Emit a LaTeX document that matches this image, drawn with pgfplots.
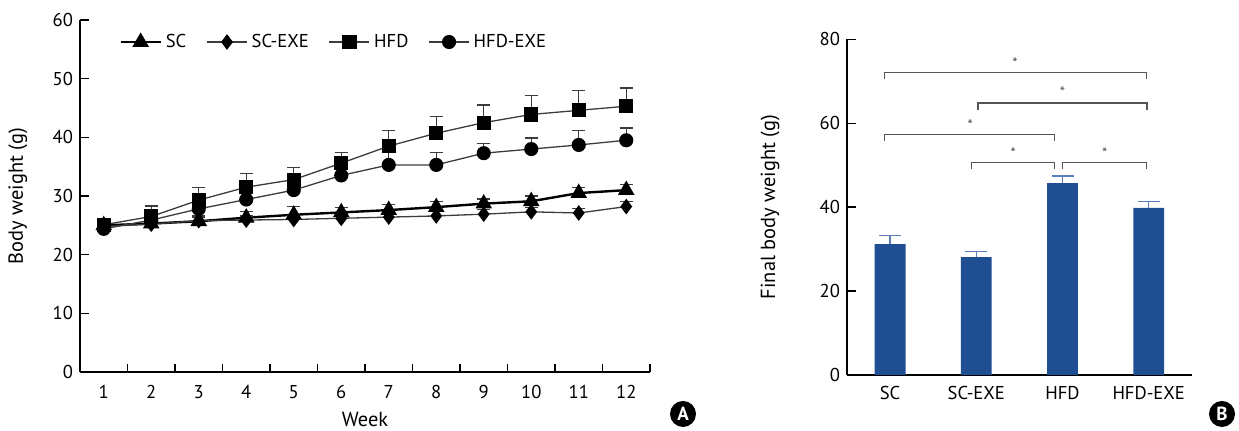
\documentclass[border=0pt]{standalone}
\usepackage{fontspec}
\setmainfont{PT Sans}
\usepackage{pgfplots}
\pgfplotsset{compat=1.18}
\definecolor{barblue}{HTML}{1F4E93}
\definecolor{errblue}{HTML}{5B7EC0}
\definecolor{linegray}{HTML}{3C3C3C}
\definecolor{brgray}{HTML}{555555}

\pgfplotsset{
  panel/.style={
    scale only axis,
    axis x line*=bottom, axis y line*=left,
    axis line style={-, line width=0.7pt, black},
    tick style={line width=0.6pt, black},
    tick align=inside,
    /pgf/number format/assume math mode=true,
    tick label style={font=\fontsize{9.3}{11}\selectfont},
    label style={font=\fontsize{10.2}{12}\selectfont},
  },
  wk/.style={
    line width=0.65pt, color=linegray,
    mark options={fill=black, draw=black, solid},
    error bars/y dir=plus, error bars/y explicit,
    error bars/error bar style={line width=0.6pt, color=linegray},
    error bars/error mark options={rotate=90, mark size=3.3pt, line width=0.6pt, color=linegray},
  },
}

\pgfplotstableread{
x y e
1 25.0 0.8
2 25.3 0.9
3 25.7 0.9
4 26.3 1.0
5 26.8 1.4
6 27.2 0.9
7 27.6 0.9
8 28.1 0.9
9 28.7 0.8
10 29.1 0.9
11 30.5 0.9
12 31.0 1.0
}\sctab
\pgfplotstableread{
x y e
1 24.8 0.7
2 25.2 0.8
3 25.8 0.6
4 25.9 0.7
5 26.0 0.7
6 26.2 0.8
7 26.4 0.8
8 26.6 0.8
9 26.9 0.8
10 27.3 0.7
11 27.1 0.8
12 28.2 0.9
}\scexetab
\pgfplotstableread{
x y e
1 25.1 1.0
2 26.5 1.8
3 29.3 2.2
4 31.5 2.3
5 32.8 2.1
6 35.6 1.8
7 38.5 2.7
8 40.7 2.8
9 42.5 3.0
10 43.9 3.2
11 44.6 3.4
12 45.3 3.1
}\hfdtab
\pgfplotstableread{
x y e
1 24.4 1.0
2 25.9 1.6
3 27.8 1.5
4 29.4 1.6
5 31.0 1.5
6 33.5 1.6
7 35.3 2.1
8 35.3 2.1
9 37.3 1.7
10 38.0 1.9
11 38.7 2.4
12 39.5 2.1
}\hfdexetab
\pgfplotstableread{
x y e
0 31.2 2.0
1 28.1 1.3
2 45.7 1.7
3 39.8 1.5
}\finaltab

\begin{document}
\begin{tikzpicture}
\useasboundingbox (0,0) rectangle (619.5pt,215.5pt);

% panel A
\begin{axis}[panel, at={(40pt,29.5pt)}, anchor=south west,
  width=285pt, height=176pt,
  xmin=0.5, xmax=12.5, ymin=0, ymax=60,
  xtick={1,...,12}, major x tick style={draw=none},
  minor xtick={1.5,2.5,...,12.5}, minor tick length=3.8pt,
  ytick={0,10,...,60}, major tick length=4.5pt,
  xticklabel style={yshift=-3pt},
  xlabel={Week}, ylabel={Body weight (g)},
  xlabel style={at={(axis description cs:0.5,-0.155)}, anchor=base, inner sep=0pt},
  ylabel style={at={(axis description cs:-0.109,0.5)}, anchor=center},
  legend style={at={(axis description cs:0.447,0.9375)}, anchor=center,
    draw=none, fill=none, font=\fontsize{9.3}{11}\selectfont,
    legend columns=4,
    /tikz/every even column/.append style={column sep=8pt}},
  legend image code/.code={\draw[#1, mark repeat=2, mark phase=2]
    plot coordinates {(0pt,0pt) (10pt,0pt) (20pt,0pt)};},
]
\addplot[wk, color=black, line width=1.2pt, mark=triangle*, mark size=3.6pt]
  table[x=x, y=y, y error=e] {\sctab};
\addplot[wk, mark=diamond*, mark size=3.4pt]
  table[x=x, y=y, y error=e] {\scexetab};
\addplot[wk, mark=square*, mark size=3.2pt]
  table[x=x, y=y, y error=e] {\hfdtab};
\addplot[wk, mark=*, mark size=3.2pt]
  table[x=x, y=y, y error=e] {\hfdexetab};
\legend{SC, SC-EXE, HFD, HFD-EXE}
\end{axis}

% panel B
\begin{axis}[panel, at={(423.5pt,28pt)}, anchor=south west,
  width=172.4pt, height=167.9pt,
  xmin=-0.5, xmax=3.5, ymin=0, ymax=80,
  xtick={0,1,2,3}, xticklabels={SC, SC-EXE, HFD, HFD-EXE},
  major x tick style={draw=none},
  ytick={0,20,...,80}, major tick length=4.5pt,
  xticklabel style={yshift=-2pt},
  ylabel={Final body weight (g)},
  ylabel style={at={(axis description cs:-0.223,0.5)}, anchor=center},
]
\addplot[ybar, bar width=15.4pt, bar shift=0pt, fill=barblue, draw=none,
  error bars/.cd, y dir=plus, y explicit,
  error bar style={line width=0.75pt, color=errblue},
  error mark options={rotate=90, mark size=5.5pt, line width=0.75pt, color=errblue}]
  table[x=x, y=y, y error=e] {\finaltab};
% significance brackets
\begin{scope}[brgray, line width=0.55pt]
\draw (axis cs:-0.06,70.4) -- (axis cs:-0.06,72.0) -- (axis cs:2.97,72.0) -- (axis cs:2.97,70.4);
\draw (axis cs:1.02,63.2) -- (axis cs:1.02,64.8) -- (axis cs:2.98,64.8) -- (axis cs:2.98,63.2);
\draw (axis cs:-0.06,55.8) -- (axis cs:-0.06,57.4) -- (axis cs:1.91,57.4) -- (axis cs:1.91,55.8);
\draw (axis cs:0.94,49.1) -- (axis cs:0.94,50.7) -- (axis cs:1.91,50.7) -- (axis cs:1.91,49.1);
\draw (axis cs:2.00,49.1) -- (axis cs:2.00,50.7) -- (axis cs:2.97,50.7) -- (axis cs:2.97,49.1);
\end{scope}
\begin{scope}[every node/.style={font=\fontsize{7.5}{8}\selectfont, text=brgray, inner sep=0pt}]
\node at (axis cs:1.45,74.2) {*};
\node at (axis cs:2.00,67.3) {*};
\node at (axis cs:0.93,59.6) {*};
\node at (axis cs:1.43,52.9) {*};
\node at (axis cs:2.49,52.9) {*};
\end{scope}
\end{axis}

% panel letters
\node[circle, fill=black, text=white, inner sep=0pt, minimum size=13pt,
  font=\bfseries\fontsize{9.5}{10}\selectfont] at (341.5pt,8.5pt) {A};
\node[circle, fill=black, text=white, inner sep=0pt, minimum size=13pt,
  font=\bfseries\fontsize{9.5}{10}\selectfont] at (611pt,8.5pt) {B};
\end{tikzpicture}
\end{document}
